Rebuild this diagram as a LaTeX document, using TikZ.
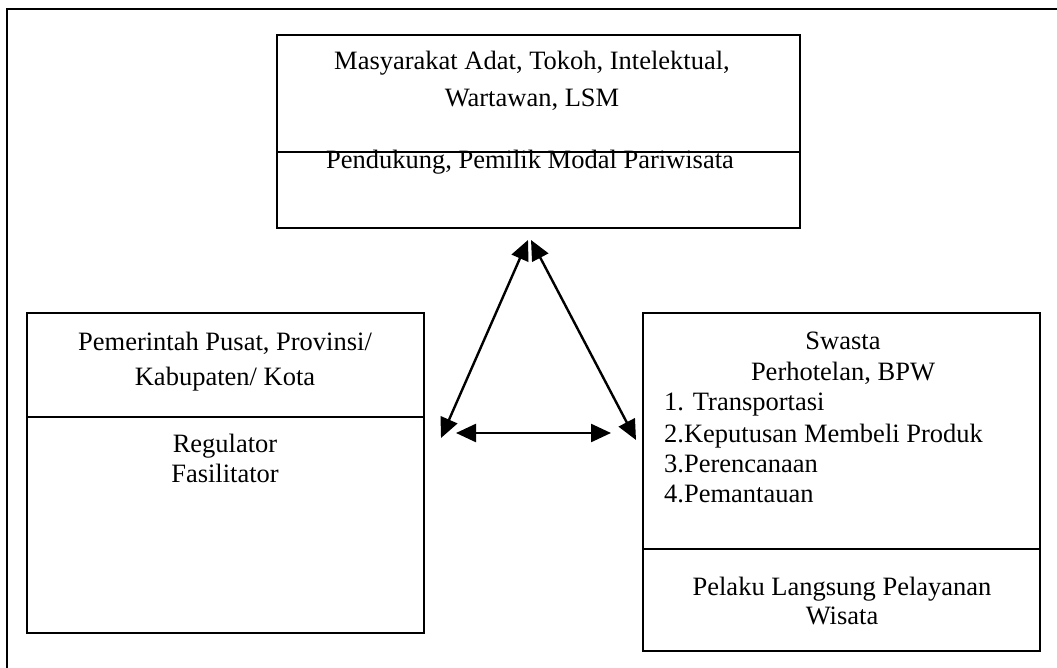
\documentclass[tikz,border=0pt]{standalone}
\usepackage{fontspec}
\setmainfont{Liberation Serif}
\usetikzlibrary{arrows.meta}
\begin{document}
\begin{tikzpicture}[x=1pt,y=-1pt,
  txt/.style={inner sep=0pt,anchor=base,font=\fontsize{26.5}{32}\selectfont},
  lst/.style={txt,anchor=base west},
  boxline/.style={line width=2pt},
  divline/.style={line width=2pt},
  link/.style={line width=2.4pt,{Triangle[length=20pt,width=18pt]}-{Triangle[length=20pt,width=18pt]}}]
\useasboundingbox (0,0) rectangle (1057,668);
% outer frame (cut off at right and bottom)
\draw[line width=2.2pt] (1080,9) -- (7,9) -- (7,690);
% boxes
\draw[boxline] (277,35) coordinate (tnw) rectangle (800,228) coordinate (tse);
\draw[divline] (277,152) coordinate (tdl) -- (800,152) coordinate (tdr);
\draw[boxline] (27,313) coordinate (lnw) rectangle (424,633) coordinate (lse);
\draw[divline] (27,417) coordinate (ldl) -- (424,417) coordinate (ldr);
\draw[boxline] (643,313) coordinate (rnw) rectangle (1040,651) coordinate (rse);
\draw[divline] (643,549) coordinate (rdl) -- (1040,549) coordinate (rdr);
% top texts
\node[txt] (t1) at (532,70) {Masyarakat Adat, Tokoh, Intelektual,};
\node[txt] (t2) at (532,107) {Wartawan, LSM};
\node[txt] (t3) at (530,169) {Pendukung, Pemilik Modal Pariwisata};
% left texts
\node[txt] (l1) at (225,350) {Pemerintah Pusat, Provinsi/};
\node[txt] (l2) at (225,385) {Kabupaten/ Kota};
\node[txt] (l3) at (225,452) {Regulator};
\node[txt] (l4) at (225,482) {Fasilitator};
% right texts
\node[txt] (r1) at (843,349) {Swasta};
\node[txt] (r2) at (843,380) {Perhotelan, BPW};
\node[lst] (r3) at (664,410) {1. Transportasi};
\node[lst] (r4) at (664,442) {2.Keputusan Membeli Produk};
\node[lst] (r5) at (664,472) {3.Perencanaan};
\node[lst] (r6) at (664,502) {4.Pemantauan};
\node[txt] (r7) at (842,595) {Pelaku Langsung Pelayanan};
\node[txt] (r8) at (842,624) {Wisata};
% arrow end points
\coordinate (aL) at (441,438);
\coordinate (aTL) at (528,240);
\coordinate (aTR) at (531,240);
\coordinate (aR) at (636,440);
\coordinate (hL) at (456,433);
\coordinate (hR) at (611,433);
\draw[link] (aL) -- (aTL);
\draw[link] (aTR) -- (aR);
\draw[link] (hL) -- (hR);
\end{tikzpicture}
\end{document}
